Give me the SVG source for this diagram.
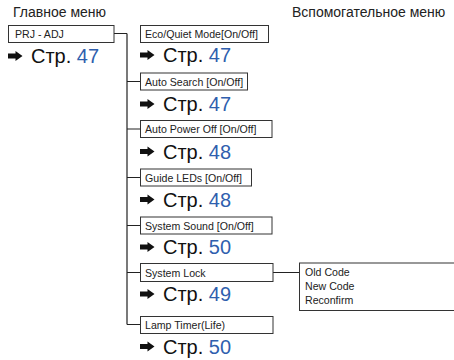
<svg xmlns="http://www.w3.org/2000/svg" width="454" height="360" viewBox="0 0 454 360">
<defs>
<path id="arr" d="M0,-2.6 H7.5 V-5 L14.5,0 L7.5,5 V2.6 H0 Z" fill="#111"/>
<style>
.title{font-family:"Liberation Sans",Arial,sans-serif;font-size:14px;fill:#222}
.box{fill:#fff;stroke:#333;stroke-width:1}
.lbl{font-family:"Liberation Sans",Arial,sans-serif;font-size:10.6px;fill:#222}
.pg{font-family:"Liberation Sans",Arial,sans-serif;font-size:20px;fill:#111}
.num{fill:#2f5fae}
.conn{fill:none;stroke:#222;stroke-width:1.2}
</style>
</defs>
<rect width="454" height="360" fill="#fff"/>
<text class="title" x="13" y="17">Главное меню</text>
<text class="title" x="292" y="17">Вспомогательное меню</text>

<g id="connectors">
<path class="conn" d="M114,33.5 H127 M127,33.5 V324.5 M127,81.5 H140 M127,129 H140 M127,177.5 H140 M127,225.5 H140 M127,272.5 H140 M127,324.5 H140 M273,272.5 H299"/>
</g>

<g id="prj">
<rect class="box" x="8.5" y="25.5" width="105.5" height="17"/>
<text class="lbl" x="15" y="38">PRJ - ADJ</text>
<use href="#arr" x="8" y="56"/>
<text class="pg" x="31" y="63">Стр. <tspan class="num">47</tspan></text>
</g>

<g id="eco">
<rect class="box" x="140.5" y="25.5" width="128" height="17"/>
<text class="lbl" x="145" y="38">Eco/Quiet Mode[On/Off]</text>
<use href="#arr" x="140" y="55"/>
<text class="pg" x="163" y="62">Стр. <tspan class="num">47</tspan></text>
</g>

<g id="autosearch">
<rect class="box" x="140.5" y="73" width="107" height="17"/>
<text class="lbl" x="145" y="85.5">Auto Search [On/Off]</text>
<use href="#arr" x="140" y="104"/>
<text class="pg" x="163" y="111">Стр. <tspan class="num">47</tspan></text>
</g>

<g id="autopower">
<rect class="box" x="140.5" y="120.5" width="131.5" height="17"/>
<text class="lbl" x="145" y="133">Auto Power Off [On/Off]</text>
<use href="#arr" x="140" y="151.5"/>
<text class="pg" x="163" y="158.5">Стр. <tspan class="num">48</tspan></text>
</g>

<g id="guideleds">
<rect class="box" x="140.5" y="169" width="111" height="17"/>
<text class="lbl" x="145" y="181.5">Guide LEDs [On/Off]</text>
<use href="#arr" x="140" y="199.5"/>
<text class="pg" x="163" y="206.5">Стр. <tspan class="num">48</tspan></text>
</g>

<g id="systemsound">
<rect class="box" x="140.5" y="217" width="131.5" height="17"/>
<text class="lbl" x="145" y="229.5">System Sound [On/Off]</text>
<use href="#arr" x="140" y="247"/>
<text class="pg" x="163" y="254">Стр. <tspan class="num">50</tspan></text>
</g>

<g id="systemlock">
<rect class="box" x="140.5" y="263.5" width="132.5" height="18"/>
<text class="lbl" x="145" y="276.5">System Lock</text>
<use href="#arr" x="140" y="294"/>
<text class="pg" x="163" y="301">Стр. <tspan class="num">49</tspan></text>
</g>

<g id="codes">
<rect class="box" x="299.5" y="263" width="170" height="47.5"/>
<text class="lbl" x="305" y="276">Old Code</text>
<text class="lbl" x="305" y="290">New Code</text>
<text class="lbl" x="305" y="304">Reconfirm</text>
</g>

<g id="lamptimer">
<rect class="box" x="140.5" y="316.5" width="132.5" height="17"/>
<text class="lbl" x="145" y="329">Lamp Timer(Life)</text>
<use href="#arr" x="140" y="346.5"/>
<text class="pg" x="163" y="353.5">Стр. <tspan class="num">50</tspan></text>
</g>
</svg>
